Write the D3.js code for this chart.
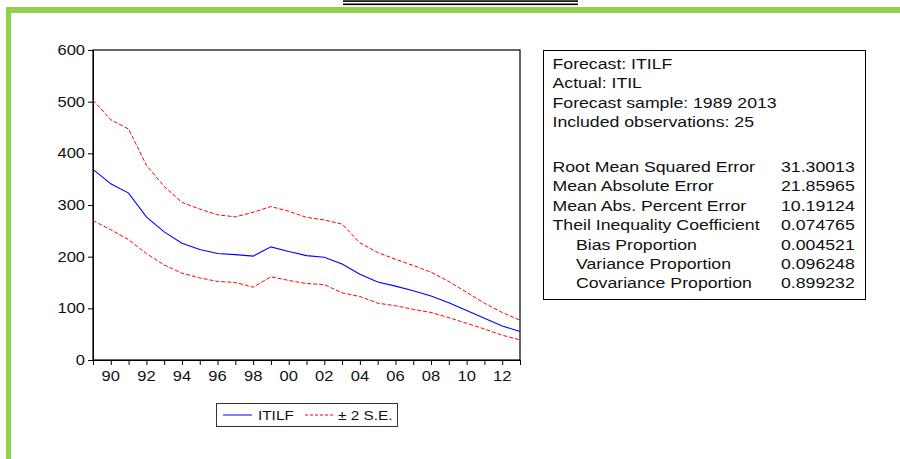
<!DOCTYPE html>
<html><head><meta charset="utf-8">
<script src="https://cdn.jsdelivr.net/npm/d3@7"></script>
<style>
html,body{margin:0;padding:0;background:#fff;}
svg{display:block;font-family:"Liberation Sans",Arial,sans-serif;}
</style></head>
<body><svg id="c" width="900" height="459"></svg>
<script>
// ---- data ----
const years = [1989,1990,1991,1992,1993,1994,1995,1996,1997,1998,1999,2000,2001,2002,2003,2004,2005,2006,2007,2008,2009,2010,2011,2012,2013];
const forecast = [369,341,323,277,248,226,214,206,204,201,219,210,202,199,186,166,151,143,134,124,111,96,81,66,55];
const upperSE = [503,465,447,377,336,305,292,281,277,286,297,288,276,271,263,227,208,195,183,170,152,131,110,92,77];
const lowerSE = [270,252,233,206,184,168,159,152,150,141,161,154,148,146,130,123,110,105,98,92,82,71,60,48,39];
const yTicks = [0,100,200,300,400,500,600];
const xLabelYears = [1990,1992,1994,1996,1998,2000,2002,2004,2006,2008,2010,2012];
const legendLabels = ["ITILF","\u00B1 2 S.E."];
const infoLines = ["Forecast: ITILF","Actual: ITIL","Forecast sample: 1989 2013","Included observations: 25"];
const statLabels = ["Root Mean Squared Error","Mean Absolute Error","Mean Abs. Percent Error","Theil Inequality Coefficient","Bias Proportion","Variance Proportion","Covariance Proportion"];
const statValues = ["31.30013","21.85965","10.19124","0.074765","0.004521","0.096248","0.899232"];
const statIndented = [false,false,false,false,true,true,true];

const SX = 1.18; // horizontal text stretch of the original
const svg = d3.select("#c");

function txt(g, x, y, s, size, anchor){
  return g.append("text")
    .attr("transform", `translate(${x},${y}) scale(${SX},1)`)
    .attr("font-size", size)
    .attr("text-anchor", anchor || "start")
    .attr("fill", "#111")
    .text(s);
}

// page decorations
svg.append("rect").attr("x",6).attr("y",7).attr("width",894).attr("height",6).attr("fill","#92d050");
svg.append("rect").attr("x",6).attr("y",7).attr("width",5).attr("height",452).attr("fill","#92d050");
svg.append("rect").attr("x",343).attr("y",0.3).attr("width",235).attr("height",1.6).attr("fill","#000");
svg.append("rect").attr("x",343).attr("y",3.5).attr("width",235).attr("height",1.6).attr("fill","#000");

// ---- chart ----
const L = 93, R = 520, T = 50, B = 360;
const x = d3.scaleLinear().domain([1989, 2013]).range([L, R]);
const y = d3.scaleLinear().domain([0, 600]).range([B, T]);

// frame
svg.append("rect").attr("x",L).attr("y",T).attr("width",R-L).attr("height",B-T)
  .attr("fill","none").attr("stroke","#000").attr("stroke-width",1.2);

// y axis
const gy = svg.append("g").attr("transform",`translate(${L},0)`)
  .call(d3.axisLeft(y).tickValues(yTicks).tickSize(5).tickFormat(""));
gy.select(".domain").attr("stroke","#000");
gy.selectAll(".tick line").attr("stroke","#000");
yTicks.forEach(v => txt(svg, L-8, y(v)+5, String(v), 14, "end"));

// x axis
const gx = svg.append("g").attr("transform",`translate(0,${B})`)
  .call(d3.axisBottom(x).tickValues(years).tickSize(5).tickFormat(""));
gx.select(".domain").attr("stroke","#000");
gx.selectAll(".tick line").attr("stroke","#000");
xLabelYears.forEach(v => txt(svg, x(v), B+21, String(v).slice(2), 14, "middle"));

// lines
const line = d3.line().x((d,i)=>x(years[i])).y(d=>y(d));
svg.append("path").datum(upperSE).attr("d",line).attr("fill","none")
  .attr("stroke","#ff0000").attr("stroke-width",1).attr("stroke-dasharray","4,2");
svg.append("path").datum(lowerSE).attr("d",line).attr("fill","none")
  .attr("stroke","#ff0000").attr("stroke-width",1).attr("stroke-dasharray","4,2");
svg.append("path").datum(forecast).attr("d",line).attr("fill","none")
  .attr("stroke","#0000ff").attr("stroke-width",1.1);

// legend
const lg = svg.append("g");
lg.append("rect").attr("x",216.5).attr("y",403.5).attr("width",181).attr("height",23)
  .attr("fill","#fff").attr("stroke","#333").attr("stroke-width",1);
lg.append("line").attr("x1",223).attr("x2",252).attr("y1",415).attr("y2",415).attr("stroke","#0000ff");
txt(lg, 258, 420, legendLabels[0], 13);
lg.append("line").attr("x1",305).attr("x2",334).attr("y1",415).attr("y2",415)
  .attr("stroke","#ff0000").attr("stroke-dasharray","3,2");
txt(lg, 338, 420, legendLabels[1], 13);

// stats box
const sb = svg.append("g");
sb.append("rect").attr("x",543.5).attr("y",50.5).attr("width",322).attr("height",249)
  .attr("fill","#fff").attr("stroke","#000").attr("stroke-width",1);
infoLines.forEach((s,i) => txt(sb, 552.5, 69 + i*19.3, s, 15));
statLabels.forEach((s,i) => {
  txt(sb, statIndented[i] ? 576 : 552.5, 172 + i*19.4, s, 15);
  txt(sb, 781, 172 + i*19.4, statValues[i], 15);
});
</script></body></html>
